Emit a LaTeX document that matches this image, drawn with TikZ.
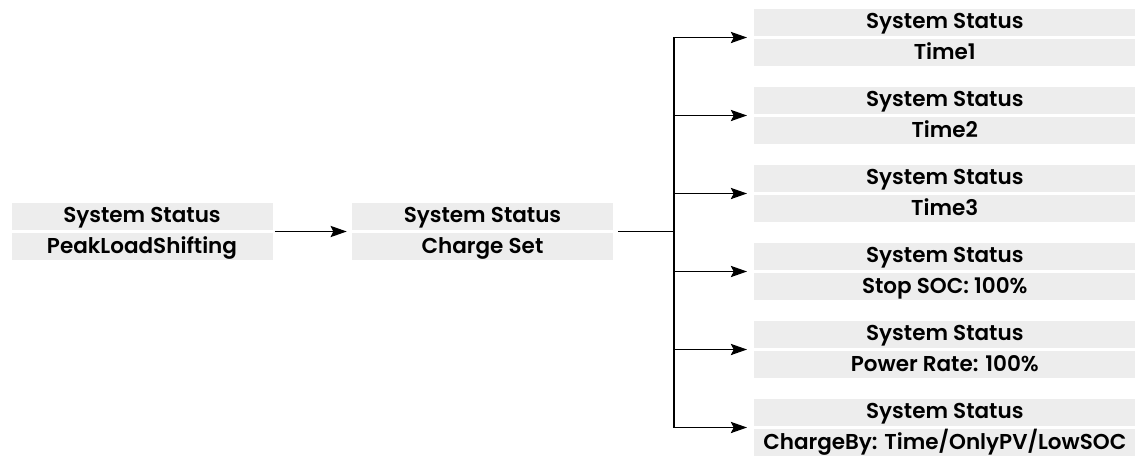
\documentclass[tikz,border=0pt]{standalone}
\usepackage{fontspec}
\setmainfont{Poppins}[BoldFont={* SemiBold}]
\usetikzlibrary{positioning,arrows.meta}

\definecolor{rowgray}{RGB}{237,237,237}

\begin{document}
\begin{tikzpicture}[
  row/.style={fill=rowgray,minimum height=0.675cm,inner sep=0pt,
    text height=1.08em,text depth=0.19em,
    font=\bfseries\fontsize{15.3}{18}\selectfont},
  narrow/.style={row,minimum width=6.525cm},
  wide/.style={row,minimum width=9.525cm},
  link/.style={-{Stealth[length=11.5pt,width=8pt,inset=2pt]},line width=0.85pt}
]
\useasboundingbox (0,0) rectangle (28.65,-11.425);

% main menu entry
\coordinate (pls) at (3.55,-5.7875);
\node[narrow,above=0.0375cm of pls](pls-title){System Status};
\node[narrow,below=0.0375cm of pls](pls-value){PeakLoadShifting};

% charge settings entry
\coordinate (cs) at (12.0625,-5.7875);
\node[narrow,above=0.0375cm of cs](cs-title){System Status};
\node[narrow,below=0.0375cm of cs](cs-value){Charge Set};

\draw[link,shorten <=0.05cm,shorten >=0.125cm]
  ([yshift=-0.0375cm]pls-title.south east) -- ([yshift=-0.0375cm]cs-title.south west);

% fork to the sub entries
\coordinate (fork) at (16.85,-5.7875);
\draw[line width=0.85pt] ([xshift=0.125cm,yshift=-0.0375cm]cs-title.south east) -- (fork);

\foreach \val [count=\i] in {Time1,Time2,Time3,Stop SOC: 100\%,Power Rate: 100\%,{ChargeBy: Time/OnlyPV/LowSOC}}{
  \coordinate (r\i) at (18.85,{-0.9375-1.95*(\i-1)});
  \node[wide,above right=0.0375cm and 0cm of r\i](r\i-title){System Status};
  \node[wide,below right=0.0375cm and 0cm of r\i](r\i-value){\val};
  \draw[link,shorten >=0.175cm] (fork) |- (r\i);
}

\end{tikzpicture}
\end{document}
